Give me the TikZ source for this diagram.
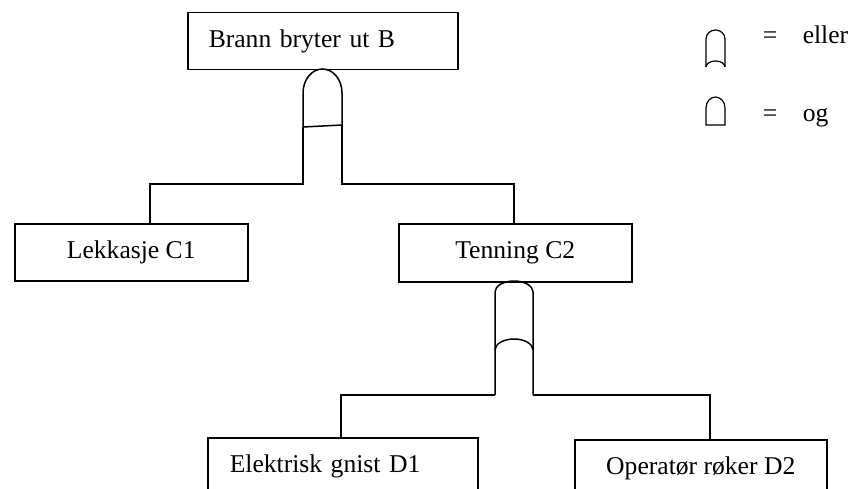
\documentclass[tikz,border=0pt]{standalone}
\usepackage{fontspec}
\setmainfont{Liberation Serif}
\begin{document}
\begin{tikzpicture}[x=1pt,y=-1pt, line width=1.5pt,
 box/.style={draw, inner sep=0pt, anchor=north west, font=\fontsize{25.6}{30}\selectfont},
 lbl/.style={inner sep=0pt, font=\fontsize{25.6}{30}\selectfont},
 gate/.style={line width=1.5pt}]
\clip (0,0) rectangle (858,489);
% boxes
\node[box, minimum width=270pt, minimum height=57pt, text width=228pt, align=left] (B) at (187,12) {Brann bryter ut B};
\node[box, minimum width=233pt, minimum height=57pt] (C1) at (14,223) {Lekkasje C1};
\node[box, minimum width=233pt, minimum height=58pt] (C2) at (398,223) {Tenning C2};
\node[box, minimum width=270pt, minimum height=57pt, text width=226pt, align=left] (D1) at (207,437) {Elektrisk gnist D1};
\node[box, minimum width=252pt, minimum height=57pt] (D2) at (574,439) {Operatør røker D2};
% AND gate under B
\coordinate (a1) at (303,127);
\coordinate (a2) at (342,125);
\draw[gate] (a1) -- (303,93) arc[start angle=180, end angle=0, x radius=19.5pt, y radius=24pt] -- (a2) -- cycle;
\coordinate (hA) at (303,184);
\coordinate (hB) at (342,184);
\draw (a1) -- (hA) -| (C1.north -| 150,0);
\draw (a2) -- (hB) -| (C2.north -| 514,0);
% OR gate under C2
\coordinate (o1) at (495,395);
\coordinate (o2) at (533,395);
\draw[gate] (o1) -- (495,292) arc[start angle=180, end angle=0, x radius=19pt, y radius=11pt] -- (o2);
\draw[gate] (495,350) arc[start angle=180, end angle=0, x radius=19pt, y radius=11pt];
\draw (o1) -| (D1.north -| 341,0);
\draw (o2) -| (D2.north -| 710,0);
% legend
\draw[line width=1.2pt] (706,67) -- (706,39) arc[start angle=180, end angle=0, x radius=9.5pt, y radius=9pt] -- (725,67);
\draw[line width=1.2pt] (706,67) arc[start angle=180, end angle=0, x radius=9.5pt, y radius=6pt];
\draw[line width=1.2pt] (706,125) -- (706,108) arc[start angle=180, end angle=0, x radius=9.5pt, y radius=11pt] -- (725,125) -- cycle;
\node[lbl, anchor=base] (eq1) at (770,44) {=};
\node[lbl, anchor=base west] (eller) at (802,44) {eller};
\node[lbl, anchor=base] (eq2) at (770,122) {=};
\node[lbl, anchor=base west] (og) at (802,122) {og};
\end{tikzpicture}
\end{document}
